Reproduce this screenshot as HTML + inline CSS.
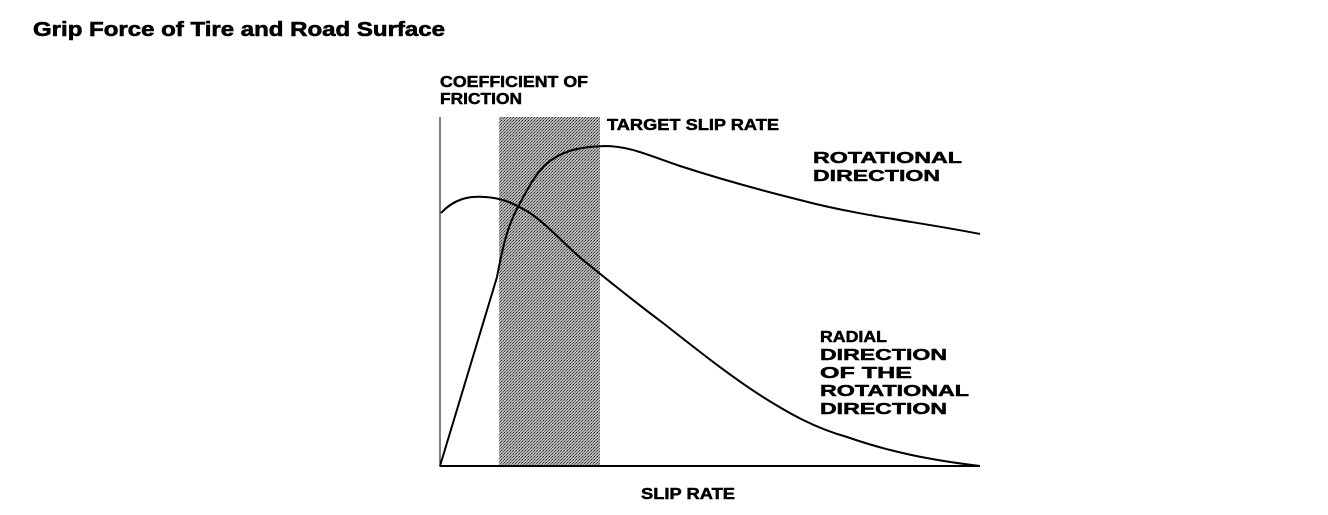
<!DOCTYPE html>
<html><head><style>
body{margin:0;width:1328px;height:510px;background:#fff;overflow:hidden;font-family:"Liberation Sans",Arial,sans-serif;}
</style></head><body>
<svg width="1328" height="510" xmlns="http://www.w3.org/2000/svg">
<defs><pattern id="p" width="3" height="3" patternUnits="userSpaceOnUse"><rect width="3" height="3" fill="#b4b4b4"/><rect width="1" height="1" fill="#333"/><rect x="2" y="1" width="1" height="1" fill="#555"/><rect x="1" y="2" width="1" height="1" fill="#777"/></pattern></defs>
<text x="33" y="36" font-size="20" font-weight="bold" fill="#000" stroke="#000" stroke-width="0.6" textLength="412" lengthAdjust="spacingAndGlyphs">Grip Force of Tire and Road Surface</text>
<rect x="499" y="117" width="101" height="349" fill="url(#p)"/>
<line x1="440" y1="117" x2="440" y2="467" stroke="#000" stroke-width="1"/>
<line x1="440" y1="466" x2="980" y2="466" stroke="#000" stroke-width="2"/>
<g fill="none" stroke="#000" stroke-width="2">
<path d="M440,466 L497,277 C503,245 508,225 518,207 C528,188 535,175 545,165 C560,152 575,147 605,146 C630,146 650,156 680,166 C720,179 760,190 800,200 C860,216 920,222 980,234"/>
<path d="M441,213 C455,198 470,196 485,197 C500,198 510,201 530,213 C550,227 565,245 583,260 C610,282 635,302 663,323 C700,352 730,376 763,397 C790,414 815,428 847,437 C890,452 930,460 980,466"/>
</g>
<g font-size="16" font-weight="bold" fill="#000" stroke="#000" stroke-width="0.5">
<text x="440" y="87" textLength="148" lengthAdjust="spacingAndGlyphs">COEFFICIENT OF</text>
<text x="440" y="104" textLength="82" lengthAdjust="spacingAndGlyphs">FRICTION</text>
<text x="607" y="130" textLength="172" lengthAdjust="spacingAndGlyphs">TARGET SLIP RATE</text>
<text x="813" y="163" textLength="149" lengthAdjust="spacingAndGlyphs">ROTATIONAL</text>
<text x="813" y="181" textLength="127" lengthAdjust="spacingAndGlyphs">DIRECTION</text>
<text x="820" y="342" textLength="67" lengthAdjust="spacingAndGlyphs">RADIAL</text>
<text x="820" y="360" textLength="127" lengthAdjust="spacingAndGlyphs">DIRECTION</text>
<text x="820" y="378" textLength="92" lengthAdjust="spacingAndGlyphs">OF THE</text>
<text x="820" y="396" textLength="149" lengthAdjust="spacingAndGlyphs">ROTATIONAL</text>
<text x="820" y="414" textLength="127" lengthAdjust="spacingAndGlyphs">DIRECTION</text>
<text x="641" y="499" textLength="94" lengthAdjust="spacingAndGlyphs">SLIP RATE</text>
</g>
</svg>
</body></html>
